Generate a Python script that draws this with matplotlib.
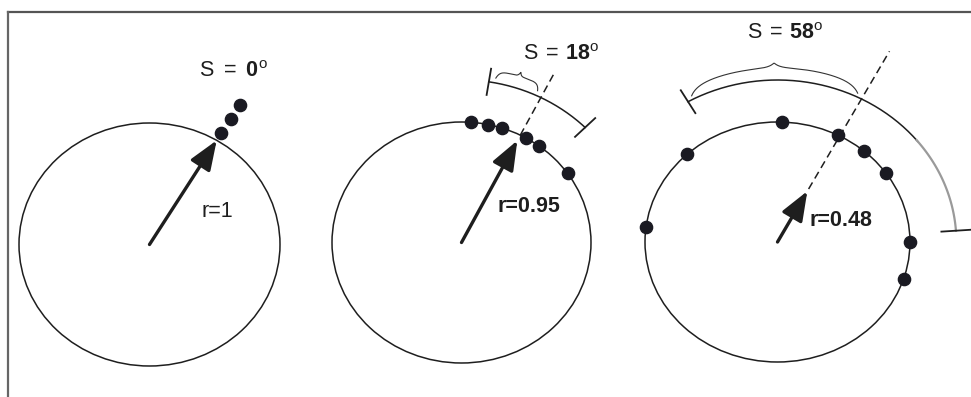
import numpy as np
import matplotlib.pyplot as plt
from matplotlib.lines import Line2D
from matplotlib.patches import Circle

plt.rcParams['font.family'] = ['Liberation Sans', 'DejaVu Sans']
plt.rcParams['mathtext.fontset'] = 'custom'
plt.rcParams['mathtext.rm'] = 'Liberation Sans'
plt.rcParams['mathtext.bf'] = 'Liberation Sans:bold'

# 数据: 方位角 (度, 从北顺时针)
angles1 = [31, 31, 31]
angles2 = [4, 12, 18, 30, 37, 55]
angles3 = [-83, -43, 2, 27, 41, 55, 90, 108]
mean_dirs = [31, 27, 28]
r_values = [1, 0.95, 0.48]
s_values = [0, 18, 58]
r_labels = ['r=1', 'r=0.95', 'r=0.48']

# 版面 (像素): 圆心, x 半径, y 半径
W, H = 971, 397
panels = [(149.5, 244.5, 130.5, 121.5),
          (461.5, 242.5, 129.5, 120.5),
          (777.5, 242.0, 132.5, 120.0)]
s_pos = [(0.64, 1.42), (0.77, 1.56), (0.06, 1.74)]
r_pos = [(0.52, 0.27), (0.52, 0.30), (0.48, 0.18)]
s_gap = [r'\;', r'\,', r'\,']
dash_span = [None, (1.0, 1.57), (0.5, 1.8)]
r_bold = [False, True, True]

ink = '#1e1e1e'


def pol(deg, rad):
    a = np.radians(deg)
    return rad * np.sin(a), rad * np.cos(a)


def brace(ax, a0, a1, r0, h, w=0.06):
    t = np.linspace(0, 1, 300)
    off = (-np.exp(-t / w) - np.exp(-(1 - t) / w)
           + 0.6 * np.exp(-np.abs(t - 0.5) / (w * 0.5)))
    x, y = pol(a0 + t * (a1 - a0), r0 + h * off)
    ax.plot(x, y, color='#333333', lw=0.8)


fig = plt.figure(figsize=(W / 100, H / 100), dpi=100)
fig.add_artist(Line2D([7.5 / W, 1], [1 - 11.5 / H] * 2, color='#555555', lw=1.6))
fig.add_artist(Line2D([7.5 / W] * 2, [0, 1 - 11.5 / H], color='#666666', lw=1.6))

all_angles = [angles1, angles2, angles3]
for i, (cx, cy, rx, ry) in enumerate(panels):
    ax = fig.add_axes([(cx - 2 * rx) / W, (H - cy - 2 * ry) / H,
                       4 * rx / W, 4 * ry / H])
    ax.set_xlim(-2, 2)
    ax.set_ylim(-2, 2)
    ax.axis('off')
    ax.patch.set_alpha(0)

    ax.add_patch(Circle((0, 0), 1.0, fill=False, ec=ink, lw=1.1))

    # 点 (重复角度向外堆叠)
    angs = all_angles[i]
    seen = {}
    for a in angs:
        k = seen.get(a, 0)
        seen[a] = k + 1
        rad = 1.0 if angs.count(a) == 1 else 1.07 + 0.137 * k
        px, py = pol(a, rad)
        ax.plot(px, py, 'o', color='#1a1a22', ms=8.8, zorder=5)

    m = mean_dirs[i]
    tx, ty = pol(m, r_values[i])
    ax.annotate('', xy=(tx, ty), xytext=(0, 0),
                arrowprops=dict(arrowstyle='-|>,head_length=0.9,head_width=0.35',
                                lw=2.4, color=ink, mutation_scale=20,
                                shrinkA=0, shrinkB=0), zorder=6)

    if dash_span[i] is not None:
        d0, d1 = dash_span[i]
        x, y = pol(np.array([m, m]), np.array([d0, d1]))
        ax.plot(x, y, color=ink, lw=1.1, ls=(0, (5, 3)))

    s = s_values[i]
    if s > 0:
        a0, a1 = m - s, m + s
        th = np.linspace(a0, a1, 200)
        x, y = pol(th, 1.35)
        if i == 2:
            ax.plot(x[th <= 52], y[th <= 52], color=ink, lw=1.1)
            ax.plot(x[th >= 51], y[th >= 51], color='#9a9a9a', lw=1.6)
        else:
            ax.plot(x, y, color=ink, lw=1.1)
        for a in (a0, a1):
            x, y = pol(np.array([a, a]), np.array([1.24, 1.46]))
            ax.plot(x, y, color=ink, lw=1.3)
        brace(ax, a0 + 2, m - 2, 1.45, 0.06 if i == 1 else 0.07)

    ax.text(*s_pos[i], r'S$%s=%s\mathbf{%d}^{\mathrm{o}}$' % (s_gap[i], s_gap[i], s),
            fontsize=15.5, ha='center', va='center', color=ink)
    ax.text(*r_pos[i], r_labels[i], fontsize=15.5, ha='center', va='center',
            color=ink, fontweight='bold' if r_bold[i] else 'normal')

fig.savefig('out.png', dpi=100)
plt.close(fig)
